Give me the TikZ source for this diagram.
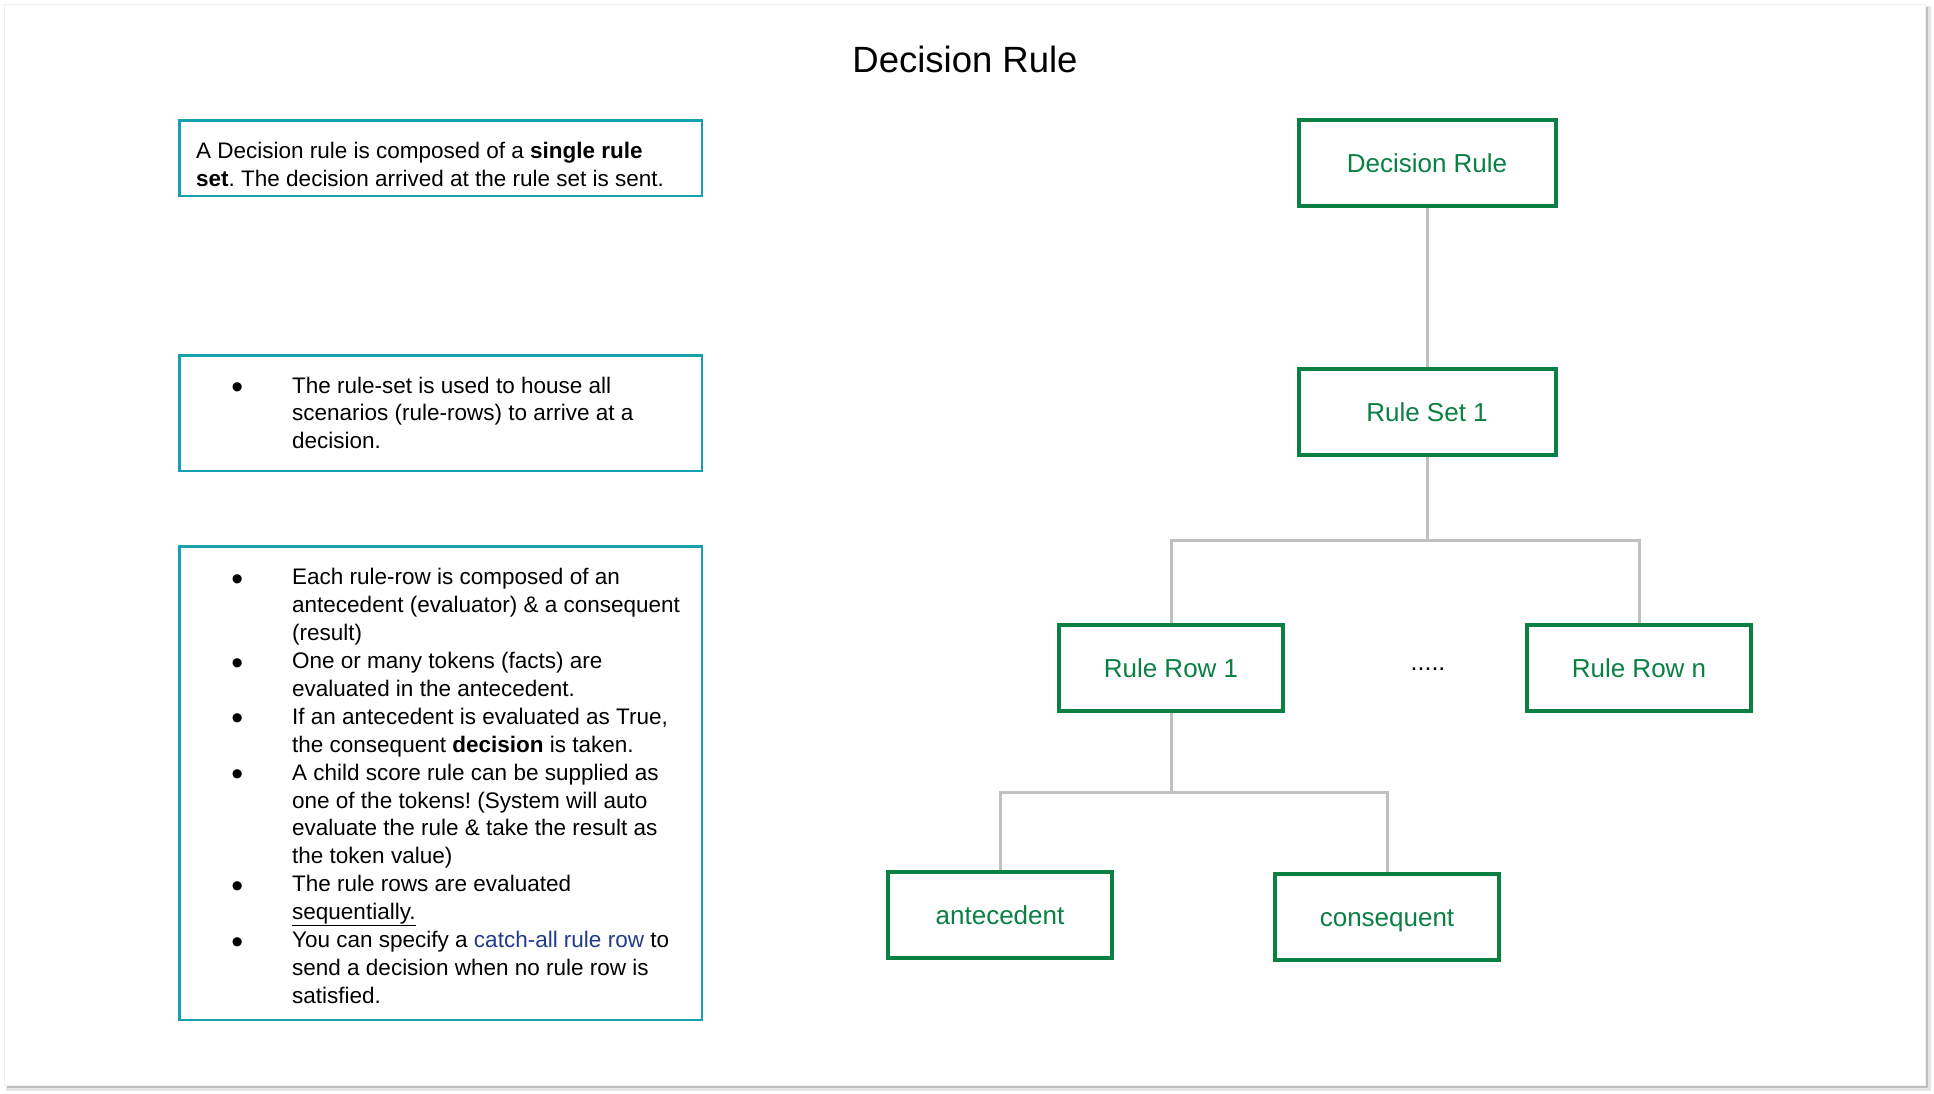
\documentclass[tikz,border=0pt]{standalone}
\usepackage{fontspec}
\setmainfont{Liberation Sans}
\usepackage{graphicx}
\usetikzlibrary{positioning}
\frenchspacing

\definecolor{ruleGreen}{RGB}{11,128,67}
\definecolor{boxTeal}{RGB}{22,160,176}
\definecolor{linkGray}{RGB}{192,192,192}
\definecolor{linkBlue}{RGB}{33,58,140}

\newcommand{\itembul}{\llap{\raisebox{-5.5pt}{\scalebox{1.5}{\textbullet}}\hspace{49pt}}}

\tikzset{
  infobox/.style={draw=boxTeal, line width=2.5, anchor=north west, inner sep=0pt, minimum width=522.5},
  infotext/.style={anchor=base west, inner sep=0pt, align=left, font=\fontsize{22.5}{27.9}\selectfont},
  treebox/.style={draw=ruleGreen, line width=4, minimum width=224, minimum height=86, inner sep=0pt,
    text=ruleGreen, text height=19, text depth=0, font=\fontsize{26}{30}\selectfont},
  treelink/.style={draw=linkGray, line width=3}
}

\begin{document}
\begin{tikzpicture}[x=1pt,y=1pt,yscale=-1]

\useasboundingbox (0,0) rectangle (1934,1094);

% Page and shadow
\fill [black!10] (6,6) rectangle (1931,1091);
\fill [black!25] (7,7) rectangle (1928,1088);
\filldraw [fill=white, draw=black!6, line width=0.8] (4,4) rectangle (1925,1085);

% Title
\draw (965,73) node [anchor=base, inner sep=0pt] [font=\fontsize{36.5}{40}\selectfont] (title) {Decision Rule};

% Info boxes
\node [infobox, minimum height=75.5] (info1) at (178.25,119.25) {};
\node [infobox, minimum height=115.5] (info2) at (178.25,354) {};
\node [infobox, minimum height=473.5] (info3) at (178.25,545.25) {};

% Text Node (anchored at the last line)
\draw (196,186.2) node [infotext] (text1) {A Decision rule is composed of a \textbf{single rule}\\
  \textbf{set}. The decision arrived at the rule set is sent.};
% Text Node
\draw (292,448.8) node [infotext] (text2) {\itembul The rule-set is used to house all\\
  scenarios (rule-rows) to arrive at a\\
  decision.};
% Text Node
\draw (292,1003.3) node [infotext] (text3) {\itembul Each rule-row is composed of an\\
  antecedent (evaluator) \& a consequent\\
  (result)\\
  \itembul One or many tokens (facts) are\\
  evaluated in the antecedent.\\
  \itembul If an antecedent is evaluated as True,\\
  the consequent \textbf{decision} is taken.\\
  \itembul A child score rule can be supplied as\\
  one of the tokens! (System will auto\\
  evaluate the rule \& take the result as\\
  the token value)\\
  \itembul The rule rows are evaluated\\
  \underline{sequentially.}\\
  \itembul You can specify a \textcolor{linkBlue}{catch-all rule row} to\\
  send a decision when no rule row is\\
  satisfied.};

% Tree nodes
\node [treebox, minimum width=257] (decrule) at (1427,163.3) {Decision Rule};
\node [treebox, minimum width=257] (ruleset) at (1427,411.6) {Rule Set 1};
\node [treebox] (rowone) at (1171,668) {Rule Row 1};
\node [treebox] (rown) at (1639,668) {Rule Row n};
\node [treebox] (antec) at (1000,915) {antecedent};
\node [treebox] (conseq) at (1387,917) {consequent};
\draw (1428,670.5) node [anchor=base, inner sep=0pt] [font=\fontsize{25}{28}\selectfont] (dots) {.....};

\coordinate (setfork) at (1427,540);
\coordinate (rowfork) at (1171,792);

%Straight Lines
\draw [treelink] (decrule) -- (ruleset);
\draw [treelink] (ruleset) -- (setfork);
\draw [treelink] (setfork) -| (rowone);
\draw [treelink] (setfork) -| (rown);
%Straight Lines
\draw [treelink] (rowone) -- (rowfork);
\draw [treelink] (rowfork) -| (antec);
\draw [treelink] (rowfork) -| (conseq);

\end{tikzpicture}
\end{document}
